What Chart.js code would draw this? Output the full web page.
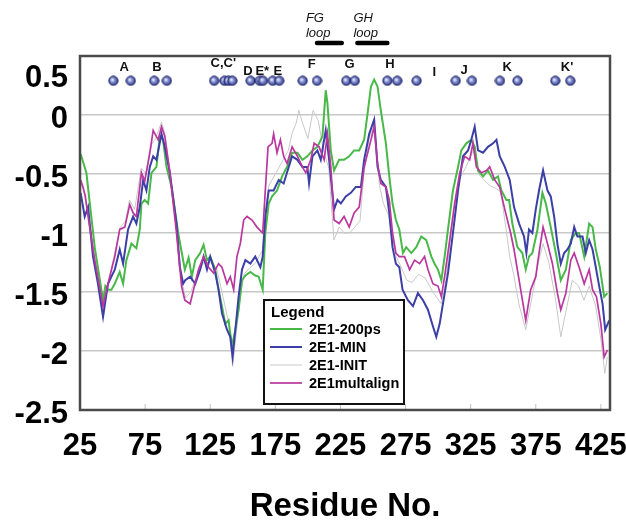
<!DOCTYPE html>
<html>
<head>
<meta charset="utf-8">
<script src="https://cdn.jsdelivr.net/npm/chart.js@4.4.0/dist/chart.umd.min.js"></script>
<style>
html, body { margin: 0; padding: 0; background: #fff; }
</style>
</head>
<body>
<canvas id="chart" width="626" height="525"></canvas>
<script>
// axis ticks
const xTicks = [25, 75, 125, 175, 225, 275, 325, 375, 425];
const yTicks = [0.5, 0, -0.5, -1, -1.5, -2, -2.5];

// [residue, value]
const green200ps = [[25.5,-0.33],[29.9,-0.49],[36.3,-1.12],[42.7,-1.57],[44.5,-1.45],[46.5,-1.48],[49.1,-1.48],[51.7,-1.43],[55.5,-1.33],[58.1,-1.43],[60.6,-1.23],[64.5,-1.09],[68.3,-1.13],[70.9,-0.97],[72.2,-0.75],[74.7,-0.72],[77.3,-0.75],[79.9,-0.49],[83.7,-0.44],[86.3,-0.18],[88.8,-0.21],[91.4,-0.44],[95.3,-0.61],[100.4,-1.0],[105.5,-1.31],[108.4,-1.21],[110.9,-1.37],[113.5,-1.23],[117.3,-1.17],[119.9,-1.10],[122.5,-1.23],[125,-1.2],[128.9,-1.31],[131.4,-1.48],[134,-1.62],[136.6,-1.77],[139.1,-1.74],[141.7,-1.96],[144.3,-1.82],[146.8,-1.65],[149.4,-1.40],[152,-1.36],[155.8,-1.33],[159.6,-1.36],[162.2,-1.37],[165.3,-1.48],[167.3,-1.0],[169.9,-0.75],[172.5,-0.69],[176.3,-0.64],[180.2,-0.52],[184,-0.44],[187.9,-0.32],[192,-0.32],[195.8,-0.38],[199.6,-0.35],[203.5,-0.30],[207.3,-0.27],[211.2,-0.18],[213.7,0.21],[215,0.10],[217.6,-0.30],[220.1,-0.47],[224,-0.38],[227.8,-0.38],[231.7,-0.35],[235.5,-0.30],[239.4,-0.30],[243.2,-0.21],[245.8,0.01],[248.4,0.24],[250.9,0.30],[253.5,0.24],[256,0.04],[259.9,-0.24],[262.5,-0.52],[265,-0.75],[267.6,-0.89],[270.2,-0.97],[273,-1.17],[275.5,-1.12],[279.4,-1.17],[283.2,-1.12],[287.1,-1.03],[290.9,-1.06],[294.8,-1.2],[297.3,-1.26],[299.9,-1.31],[302.5,-1.40],[305,-1.2],[307.6,-0.97],[311.4,-0.64],[315.3,-0.44],[317.8,-0.30],[321.7,-0.24],[325.5,-0.21],[328.1,-0.27],[330.7,-0.47],[334.5,-0.52],[338.3,-0.47],[342.2,-0.55],[346,-0.52],[348.6,-0.64],[352.4,-0.72],[354.5,-0.72],[357,-0.92],[360.9,-1.12],[364.7,-1.17],[367.3,-1.31],[369.8,-1.2],[372.4,-1.17],[376.3,-0.97],[380.1,-0.66],[382.7,-0.75],[386.5,-0.95],[390.4,-1.17],[394.2,-1.40],[398.1,-1.31],[401.9,-1.06],[405.7,-1.0],[408.3,-1.0],[412.2,-1.2],[416,-0.92],[418.6,-0.95],[421.1,-1.14],[424.2,-1.29],[427.5,-1.54],[430,-1.51]];

const blueMin = [[25.5,-0.66],[28.6,-0.86],[31.2,-0.78],[35,-1.2],[38.8,-1.43],[42.7,-1.71],[46.5,-1.43],[49.1,-1.37],[51.7,-1.31],[55.5,-1.14],[58.1,-1.26],[61.9,-0.97],[65.8,-0.86],[68.3,-0.92],[70.9,-0.78],[73.5,-0.55],[76,-0.64],[78.6,-0.44],[81.2,-0.35],[83.7,-0.38],[87.6,-0.16],[90.1,-0.27],[94,-0.49],[99.1,-0.92],[101.7,-1.29],[104.2,-1.43],[105.8,-1.40],[109.6,-1.37],[113.5,-1.43],[117.3,-1.31],[119.9,-1.2],[122.5,-1.31],[125,-1.2],[128.9,-1.34],[131.4,-1.48],[134,-1.68],[137.9,-1.82],[140.4,-1.88],[142.2,-2.05],[144.3,-1.82],[146.8,-1.54],[149.4,-1.31],[152,-1.23],[155.8,-1.26],[159.6,-1.2],[163.5,-1.29],[165.3,-1.2],[167.3,-0.86],[169.9,-0.64],[173.7,-0.64],[177.6,-0.55],[181.4,-0.58],[185.3,-0.44],[187.9,-0.35],[192,-0.38],[195.8,-0.44],[199.6,-0.44],[200.9,-0.58],[203.5,-0.35],[207.3,-0.30],[209.9,-0.38],[213.7,-0.13],[216.3,-0.38],[220.1,-0.80],[222.7,-0.72],[225.3,-0.75],[229.1,-0.69],[233,-0.66],[236.8,-0.61],[240.7,-0.61],[243.2,-0.38],[247.1,-0.16],[250.9,-0.04],[253.5,-0.44],[256,-0.55],[259.9,-0.61],[262.5,-0.83],[265,-1.12],[267.6,-1.26],[270.2,-1.29],[272.7,-1.48],[276.8,-1.57],[280.7,-1.62],[284.5,-1.51],[288.4,-1.57],[292.2,-1.65],[296,-1.79],[298.6,-1.88],[301.2,-1.77],[303.7,-1.60],[307.6,-1.34],[311.4,-1.0],[315.3,-0.64],[319.1,-0.35],[323,-0.30],[325.5,-0.21],[328.1,-0.10],[330.7,-0.30],[334.5,-0.32],[338.3,-0.27],[342.2,-0.24],[344.8,-0.21],[347.3,-0.35],[351.2,-0.44],[355,-0.55],[358.3,-0.78],[362.2,-0.92],[366,-1.03],[367.8,-1.17],[369.8,-0.97],[372.4,-1.0],[375,-0.8],[377.5,-0.64],[380.6,-0.47],[384,-0.64],[386.5,-0.69],[389.1,-0.86],[391.6,-1.09],[394.2,-1.26],[396.8,-1.17],[399.3,-1.14],[401.9,-1.09],[404.5,-0.95],[407,-1.03],[410.9,-1.03],[413.4,-1.17],[416,-1.06],[418.6,-1.14],[421.1,-1.29],[423.7,-1.45],[426.3,-1.60],[428.3,-1.82],[431.4,-1.74]];

const grayInit = [[25,-0.55],[28,-0.65],[32,-0.9],[37,-1.25],[42.7,-1.66],[46,-1.45],[52,-1.15],[56,-0.95],[60,-0.9],[63,-0.72],[67,-0.8],[72,-0.45],[76,-0.5],[80,-0.25],[83,-0.2],[87.6,-0.06],[90,-0.15],[94,-0.45],[99,-0.95],[103,-1.4],[106,-1.55],[110,-1.5],[115,-1.35],[120,-1.25],[125,-1.25],[130,-1.3],[135,-1.55],[139,-1.75],[142.2,-2.13],[145,-1.85],[148,-1.55],[151,-1.35],[155,-1.3],[160,-1.25],[165,-1.15],[167,-0.85],[170,-0.6],[175,-0.5],[180,-0.4],[185,-0.3],[188,-0.15],[191,-0.07],[193,0.04],[196,-0.07],[200,-0.2],[204,0.04],[208,-0.05],[212,-0.3],[216,-0.45],[220,-1.06],[224,-0.95],[228,-1.0],[232,-1.0],[236,-0.95],[240,-0.9],[243,-0.5],[247,-0.2],[251,-0.08],[255,-0.6],[258,-0.75],[262,-0.85],[265,-1.05],[268,-1.2],[272,-1.3],[276,-1.4],[280,-1.42],[285,-1.35],[290,-1.38],[296,-1.5],[302.5,-1.6],[306,-1.4],[309,-1.1],[313,-0.75],[316,-0.55],[321,-0.45],[327,-0.3],[331,-0.5],[335,-0.55],[340,-0.6],[344,-0.62],[348,-0.65],[352,-0.95],[355,-1.2],[358,-1.35],[362,-1.6],[367.3,-1.82],[372,-1.55],[377,-1.25],[380.6,-1.09],[385,-1.25],[390,-1.55],[394.2,-1.88],[399,-1.62],[403,-1.4],[408,-1.45],[412,-1.57],[416,-1.45],[421,-1.62],[425,-1.9],[428,-2.19],[430,-2.05]];

const magentaMultalign = [[25.5,-0.55],[27.3,-0.61],[29.1,-0.69],[31.2,-0.86],[36.3,-1.23],[42.7,-1.62],[46.5,-1.43],[51.7,-1.20],[55.5,-0.97],[59.4,-0.95],[63.2,-0.76],[65.8,-0.83],[68.3,-0.86],[72.2,-0.49],[74.7,-0.56],[78.6,-0.32],[81.2,-0.13],[85,-0.21],[87.6,-0.10],[90.1,-0.18],[94,-0.49],[99.1,-1.0],[103,-1.45],[105.5,-1.57],[109.6,-1.60],[112.2,-1.48],[116,-1.31],[119.9,-1.20],[123.7,-1.29],[127.6,-1.34],[131.4,-1.26],[134,-1.29],[137.9,-1.43],[140.4,-1.37],[143,-1.48],[145.5,-1.20],[148.1,-1.09],[150.7,-0.89],[153.2,-0.86],[157.1,-0.89],[160.9,-0.95],[165.3,-1.0],[167.3,-0.64],[169.4,-0.27],[172.5,-0.24],[173.7,-0.16],[176.3,-0.32],[178.9,-0.21],[181.4,-0.35],[184,-0.41],[187.9,-0.27],[192,-0.35],[195.8,-0.44],[198.4,-0.49],[202.2,-0.38],[204.8,-0.24],[208.6,-0.27],[212.5,-0.38],[215,-0.16],[217.6,-0.44],[220.1,-0.89],[224,-0.92],[227.8,-0.86],[231.7,-0.95],[235.5,-0.83],[239.4,-0.78],[243.2,-0.44],[247.1,-0.27],[250.9,-0.10],[253.5,-0.41],[256,-0.58],[259.9,-0.61],[262.5,-0.72],[265,-1.0],[267.6,-1.17],[270.2,-1.20],[274.2,-1.20],[278.1,-1.31],[281.9,-1.23],[285.8,-1.26],[289.6,-1.20],[292.2,-1.31],[296,-1.43],[299.9,-1.45],[302.5,-1.54],[305,-1.37],[308.9,-1.06],[312.7,-0.75],[316.6,-0.49],[320.4,-0.35],[324.2,-0.38],[326.8,-0.24],[329.4,-0.44],[333.2,-0.49],[337.1,-0.47],[339.6,-0.44],[343.5,-0.55],[347.3,-0.61],[351.2,-0.80],[355.7,-1.0],[358.3,-1.14],[362.2,-1.40],[367.3,-1.74],[371.1,-1.48],[375,-1.37],[377.5,-1.17],[380.6,-0.95],[384,-1.09],[387.8,-1.26],[391.6,-1.51],[394.2,-1.65],[398.1,-1.51],[401.9,-1.23],[404.5,-1.17],[408.3,-1.29],[412.2,-1.43],[416,-1.31],[418.6,-1.48],[421.6,-1.54],[425,-1.77],[427.5,-2.05],[430.1,-1.99]];

// helix markers (beads) and their letters
const helixDots = [50.6, 64, 82, 91.7, 128, 136, 139, 142, 156, 163, 165.5, 173, 178, 196, 207, 229.5, 236, 261, 268.6, 283.5, 313.5, 326, 347.5, 361, 390, 401.5];
const helixDotLevel = 0.29;
const helixNames = ['A', 'B', "C,C'", 'D', 'E*', 'E', 'F', 'G', 'H', 'I', 'J', 'K', "K'"];
const helixNamePos = [59, 84, 135, 154, 165, 177, 203, 232, 263, 297, 320, 353, 399];
const helixNameLevel = [0.40, 0.40, 0.44, 0.37, 0.37, 0.37, 0.43, 0.43, 0.43, 0.36, 0.38, 0.40, 0.40];

// loops marked above the plot
const loopNames = ['FG', 'GH'];
const loopStart = [207, 238];
const loopEnd = [226, 261];
const loopTextAt = [198.5, 235];

const sans = '"Liberation Sans", Arial, sans-serif';

// little blue bead used as point style
const bead = document.createElement('canvas');
bead.width = 11; bead.height = 11;
(function () {
    const b = bead.getContext('2d');
    const g = b.createRadialGradient(4.3, 4.3, 0.3, 5.5, 5.5, 5.3);
    g.addColorStop(0, '#f4f6ff');
    g.addColorStop(0.35, '#8c97d8');
    g.addColorStop(1, '#1c2778');
    b.fillStyle = g;
    b.beginPath();
    b.arc(5.5, 5.5, 4.6, 0, Math.PI * 2);
    b.fill();
    b.strokeStyle = '#1a2060';
    b.lineWidth = 1;
    b.stroke();
})();

const overlay = {
    id: 'overlay',
    afterDatasetsDraw(chart) {
        const { ctx, chartArea: a, scales: { x, y } } = chart;
        ctx.save();

        // short ticks along the bottom edge
        ctx.strokeStyle = '#c0c0c0';
        ctx.lineWidth = 1;
        xTicks.forEach(v => {
            const px = x.getPixelForValue(v);
            ctx.beginPath();
            ctx.moveTo(px, a.bottom);
            ctx.lineTo(px, a.bottom - 6);
            ctx.stroke();
        });

        // frame
        ctx.strokeStyle = '#4a4a4a';
        ctx.lineWidth = 2.5;
        ctx.strokeRect(a.left, a.top, a.right - a.left, a.bottom - a.top);

        // helix letters
        ctx.fillStyle = '#111';
        ctx.font = 'bold 13px ' + sans;
        ctx.textAlign = 'center';
        ctx.textBaseline = 'middle';
        helixNames.forEach((t, i) => {
            ctx.fillText(t, x.getPixelForValue(helixNamePos[i]), y.getPixelForValue(helixNameLevel[i]));
        });

        // FG / GH loops
        ctx.font = 'italic 13px ' + sans;
        ctx.textAlign = 'left';
        ctx.strokeStyle = '#000';
        ctx.lineWidth = 4.5;
        ctx.lineCap = 'round';
        loopNames.forEach((n, i) => {
            const tx = x.getPixelForValue(loopTextAt[i]);
            ctx.fillText(n, tx, a.top - 38);
            ctx.fillText('loop', tx, a.top - 23);
            ctx.beginPath();
            ctx.moveTo(x.getPixelForValue(loopStart[i]), a.top - 13);
            ctx.lineTo(x.getPixelForValue(loopEnd[i]), a.top - 13);
            ctx.stroke();
        });
        ctx.lineCap = 'butt';

        // legend box
        const lx = a.left + 184, ly = a.top + 244, lw = 140, lh = 104;
        ctx.fillStyle = '#fff';
        ctx.fillRect(lx, ly, lw, lh);
        ctx.strokeStyle = '#111';
        ctx.lineWidth = 2;
        ctx.strokeRect(lx, ly, lw, lh);
        ctx.fillStyle = '#000';
        ctx.font = 'bold 15px ' + sans;
        ctx.fillText('Legend', lx + 7, ly + 13);
        ctx.font = 'bold 14.5px ' + sans;
        chart.data.datasets.slice(0, 4).forEach((ds, i) => {
            const ry = ly + 29 + i * 18;
            ctx.strokeStyle = ds.borderColor;
            ctx.lineWidth = ds.borderWidth;
            ctx.beginPath();
            ctx.moveTo(lx + 6, ry);
            ctx.lineTo(lx + 38, ry);
            ctx.stroke();
            ctx.fillStyle = '#000';
            ctx.fillText(ds.label, lx + 45, ry + 1);
        });

        ctx.restore();
    }
};

const toPoints = arr => arr.map(([x, y]) => ({ x, y }));

new Chart(document.getElementById('chart'), {
    type: 'line',
    data: {
        datasets: [
            { label: '2E1-200ps', data: toPoints(green200ps), borderColor: '#48b848', borderWidth: 2, order: 3 },
            { label: '2E1-MIN', data: toPoints(blueMin), borderColor: '#3b3fa6', borderWidth: 2, order: 2 },
            { label: '2E1-INIT', data: toPoints(grayInit), borderColor: '#c8c8c8', borderWidth: 1, order: 5 },
            { label: '2E1multalign', data: toPoints(magentaMultalign), borderColor: '#b9379e', borderWidth: 1.7, order: 1 },
            {
                label: 'helices',
                type: 'scatter',
                data: helixDots.map(r => ({ x: r, y: helixDotLevel })),
                pointStyle: bead,
                pointRadius: 5,
                order: 0
            }
        ]
    },
    options: {
        responsive: false,
        animation: false,
        devicePixelRatio: 1,
        elements: { point: { radius: 0 }, line: { tension: 0 } },
        layout: { padding: { top: 56, right: 16, left: 0, bottom: 0 } },
        plugins: { legend: { display: false }, tooltip: { enabled: false } },
        scales: {
            x: {
                type: 'linear',
                min: 25,
                max: 432,
                afterBuildTicks: s => { s.ticks = xTicks.map(v => ({ value: v })); },
                afterFit: s => { s.height = 115; s.paddingLeft = 0; s.paddingRight = 0; },
                grid: { display: false, drawTicks: false },
                border: { display: false },
                ticks: {
                    autoSkip: false,
                    maxRotation: 0,
                    padding: 18,
                    color: '#000',
                    font: { family: sans, size: 31, weight: 'bold' }
                },
                title: {
                    display: true,
                    text: 'Residue No.',
                    color: '#000',
                    padding: { top: 0, bottom: 0 },
                    font: { family: sans, size: 33, weight: 'bold', lineHeight: 1.1 }
                }
            },
            y: {
                min: -2.5,
                max: 0.5,
                afterBuildTicks: s => { s.ticks = yTicks.map(v => ({ value: v })); },
                afterFit: s => { s.width = 80; s.paddingTop = 0; s.paddingBottom = 0; },
                grid: { color: '#c8c8c8', lineWidth: 1.5, drawTicks: false },
                border: { display: false },
                ticks: {
                    autoSkip: false,
                    padding: 12,
                    labelOffset: 4,
                    color: '#000',
                    font: { family: sans, size: 31, weight: 'bold' },
                    // the top label sits lower, clear of the frame corner
                    callback: v => (v === 0.5 ? ['', '0.5'] : String(v))
                }
            }
        }
    },
    plugins: [overlay]
});
</script>
</body>
</html>
